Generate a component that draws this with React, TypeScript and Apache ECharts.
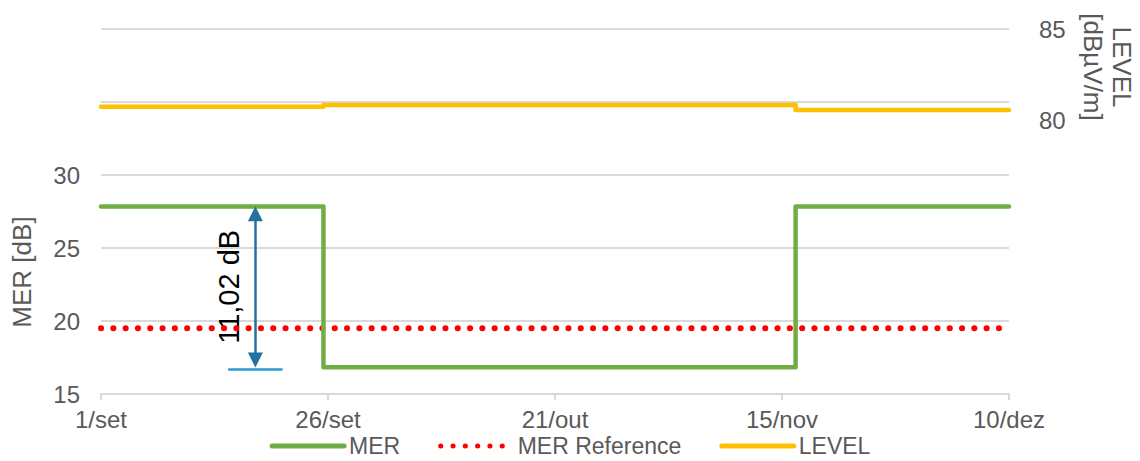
import React, { useEffect, useRef } from "react";
import * as echarts from "echarts";

// x values are days since 1/set
const xTickLabels = ["1/set", "26/set", "21/out", "15/nov", "10/dez"];
const merDays = [0, 24.5, 76.5, 100];
const merValues = [27.85, 16.83, 27.85, 27.85];
const refDays = [0, 100];
const refValues = [19.5, 19.5];
const levelDays = [0, 24.5, 76.5, 100];
const levelValues = [80.74, 80.84, 80.56, 80.56];
const annotationText = "11,02 dB";
const annotationDay = 17;

const FONT = "'Liberation Sans', Arial, sans-serif";

export default function App() {
  const ref = useRef<HTMLDivElement>(null);
  useEffect(() => {
    if (!ref.current) return;
    const chart = echarts.init(ref.current, undefined, { renderer: "svg" });
    const pair = (xs: number[], ys: number[]) => xs.map((x, i) => [x, ys[i]]);
    const merTop = merValues[0];
    const merLow = merValues[1];
    const arrowInset = 0.5;
    chart.setOption({
      animation: false,
      textStyle: { fontFamily: FONT },
      grid: { left: 101, right: 131, top: 29, bottom: 67 },
      legend: {
        top: 434,
        left: "center",
        padding: 0,
        itemWidth: 72,
        itemHeight: 10,
        itemGap: 38,
        itemStyle: { opacity: 0 },
        lineStyle: { width: 5 },
        textStyle: { fontSize: 23, lineHeight: 24, color: "#595959", fontFamily: FONT },
        data: ["MER", "MER Reference", "LEVEL"],
      },
      xAxis: {
        type: "value",
        min: 0,
        max: 100,
        interval: 25,
        axisLine: { show: true, lineStyle: { color: "#D9D9D9", width: 2 } },
        axisTick: { show: true, length: 6, lineStyle: { color: "#D9D9D9", width: 2 } },
        splitLine: { show: false },
        axisLabel: {
          fontSize: 24,
          color: "#595959",
          margin: 13,
          formatter: (v: number) => xTickLabels[Math.round(v / 25)] ?? "",
        },
      },
      yAxis: [
        {
          type: "value",
          min: 15,
          max: 40,
          interval: 5,
          axisLine: { show: false },
          axisTick: { show: false },
          splitLine: { lineStyle: { color: "#D9D9D9", width: 2 } },
          axisLabel: {
            fontSize: 24,
            color: "#595959",
            margin: 21,
            formatter: (v: number) => (v <= 30 ? String(v) : ""),
          },
        },
        {
          type: "value",
          min: 65,
          max: 85,
          interval: 5,
          position: "right",
          axisLine: { show: false },
          axisTick: { show: false },
          splitLine: { show: false },
          axisLabel: {
            fontSize: 24,
            color: "#595959",
            margin: 30,
            formatter: (v: number) => (v >= 80 ? String(v) : ""),
          },
        },
      ],
      series: [
        {
          name: "MER",
          type: "line",
          step: "end",
          symbol: "none",
          yAxisIndex: 0,
          data: pair(merDays, merValues),
          lineStyle: { color: "#70AD47", width: 4.5, cap: "round", join: "round" },
          itemStyle: { color: "#70AD47" },
          z: 3,
        },
        {
          name: "MER Reference",
          type: "line",
          symbol: "none",
          yAxisIndex: 0,
          data: pair(refDays, refValues),
          lineStyle: { color: "#FF0000", width: 6, type: [0.1, 12.2], cap: "round" },
          itemStyle: { color: "#FF0000" },
          z: 2,
        },
        {
          name: "LEVEL",
          type: "line",
          step: "end",
          symbol: "none",
          yAxisIndex: 1,
          data: pair(levelDays, levelValues),
          lineStyle: { color: "#FFC000", width: 4.5, cap: "round", join: "round" },
          itemStyle: { color: "#FFC000" },
          z: 3,
        },
        {
          name: "annotation",
          type: "line",
          symbol: "none",
          yAxisIndex: 0,
          data: [],
          silent: true,
          markLine: {
            silent: true,
            animation: false,
            label: { show: false },
            emphasis: { disabled: true },
            data: [
              [
                {
                  coord: [annotationDay, merTop - arrowInset],
                  symbol: "triangle",
                  symbolSize: [15, 15],
                  lineStyle: { color: "#24729E", width: 2.5, type: "solid" },
                },
                { coord: [annotationDay, merLow + arrowInset], symbol: "triangle", symbolSize: [15, 15] },
              ],
              [
                {
                  coord: [annotationDay - 3, merLow - 0.15],
                  symbol: "none",
                  lineStyle: { color: "#2E9AD0", width: 2.5, type: "solid" },
                },
                { coord: [annotationDay + 3, merLow - 0.15], symbol: "none" },
              ],
            ],
          },
        },
      ],
    });
    const mid = chart.convertToPixel({ xAxisIndex: 0, yAxisIndex: 0 }, [
      annotationDay - 2.85,
      (merTop + merLow) / 2,
    ]) as number[];
    chart.setOption({
      graphic: [
        {
          type: "text",
          x: mid[0],
          y: mid[1],
          rotation: Math.PI / 2,
          style: {
            text: annotationText,
            fill: "#000000",
            font: `29px ${FONT}`,
            align: "center",
            verticalAlign: "middle",
          },
        },
        {
          type: "text",
          x: 22,
          y: 272,
          rotation: Math.PI / 2,
          style: {
            text: "MER [dB]",
            fill: "#595959",
            font: `26px ${FONT}`,
            align: "center",
            verticalAlign: "middle",
          },
        },
        {
          type: "text",
          x: 1107,
          y: 67,
          rotation: -Math.PI / 2,
          style: {
            text: "LEVEL\n[dBµV/m]",
            fill: "#595959",
            font: `26px ${FONT}`,
            lineHeight: 29,
            align: "center",
            verticalAlign: "middle",
          },
        },
      ],
    });
    return () => chart.dispose();
  }, []);
  return <div ref={ref} style={{ width: 1140, height: 461, position: "absolute", left: 0, top: 0 }} />;
}
